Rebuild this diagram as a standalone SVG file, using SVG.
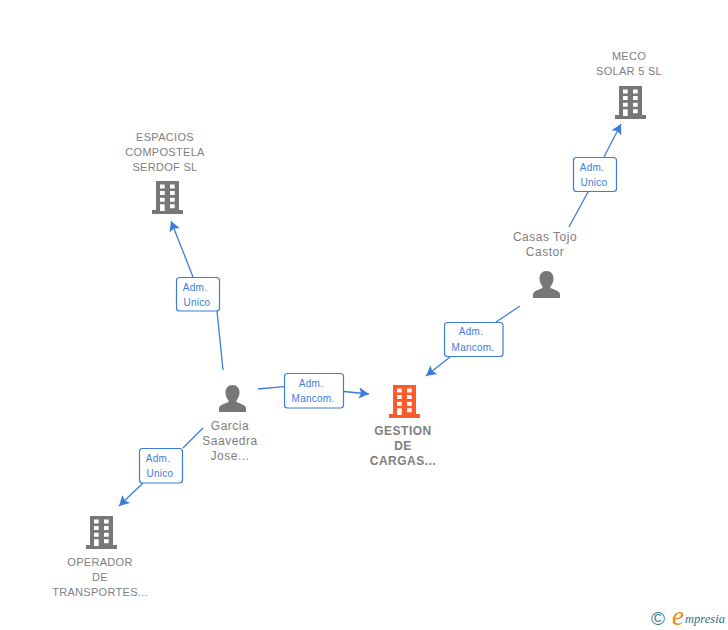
<svg xmlns="http://www.w3.org/2000/svg" xmlns:xlink="http://www.w3.org/1999/xlink" width="728" height="630" viewBox="0 0 728 630">
<style>
text{font-family:"Liberation Sans",Arial,sans-serif;text-anchor:middle}
.n{font-size:11px;fill:#808080;letter-spacing:.3px}
.p{font-size:12px;fill:#808080;letter-spacing:.5px}
.g{font-size:12px;fill:#808080;font-weight:bold;letter-spacing:.5px}
.l{font-size:10px;fill:#3b7ddd;letter-spacing:.25px}
.c{fill:none;stroke:#3b7ddd;stroke-width:1.3}
.b{fill:#fff;stroke:#3b7ddd;stroke-width:1.2}
</style>
<defs>
<marker id="a" markerUnits="userSpaceOnUse" markerWidth="14" markerHeight="14" viewBox="0 0 14 14" refX="11" refY="7" orient="auto">
<path d="M1 1.500L11 7L1 12.500L3 7Z" fill="#3b7ddd"/>
</marker>
<path id="bld" fill-rule="evenodd" d="M4 0H27V29H31V33H0V29H4ZM8 3.500V7.500H12.700V3.500ZM18 3.500V7.500H22.700V3.500ZM8 10V14H12.700V10ZM18 10V14H22.700V10ZM8 16.700V20.700H12.700V16.700ZM18 16.700V20.700H22.700V16.700ZM8 23.300V30H12.700V23.300ZM18 23.300V27.300H22.700V23.300Z"/>
<path id="psn" d="M13.500 0C18 0 20.500 3.200 20.500 7.500C20.500 11 19 13.500 17.500 15.500V17C20.500 18.500 26 19.500 27 23V27H0V23C1 19.500 6.500 18.500 9.500 17V15.500C8 13.500 6.500 11 6.500 7.500C6.500 3.200 9 0 13.500 0Z"/>
</defs>
<g id="connectors">
<path class="c" d="M258 389L284 386.700"/>
<path class="c" d="M344 391.500L369 394" marker-end="url(#a)"/>
<path class="c" d="M223 370L217 311"/>
<path class="c" d="M193 277L171 221" marker-end="url(#a)"/>
<path class="c" d="M203 428L183 448"/>
<path class="c" d="M143 483L119 506" marker-end="url(#a)"/>
<path class="c" d="M569 227L588 192"/>
<path class="c" d="M604 157L621 124" marker-end="url(#a)"/>
<path class="c" d="M520 306L496 322"/>
<path class="c" d="M450 357L426 376" marker-end="url(#a)"/>
<rect class="b" x="284.500" y="373.500" width="59" height="34.500" rx="3"/>
<text class="l" x="311" y="387">Adm.</text><text class="l" x="313" y="402">Mancom.</text>
<rect class="b" x="176.500" y="277.500" width="43" height="33.500" rx="3"/>
<text class="l" x="195" y="291">Adm.</text><text class="l" x="197" y="306">Unico</text>
<rect class="b" x="139.500" y="448.500" width="43" height="34.500" rx="3"/>
<text class="l" x="158" y="462">Adm.</text><text class="l" x="160" y="477">Unico</text>
<rect class="b" x="573.500" y="157.500" width="43" height="34" rx="3"/>
<text class="l" x="592" y="171">Adm.</text><text class="l" x="594" y="186">Unico</text>
<rect class="b" x="444.500" y="322.500" width="58.500" height="34" rx="3"/>
<text class="l" x="471" y="335">Adm.</text><text class="l" x="473" y="351">Mancom.</text>
</g>
<g id="gestion">
<use xlink:href="#bld" href="#bld" x="389" y="385" fill="#ff5a2c"/>
<text class="g" x="403" y="435">GESTION</text><text class="g" x="403" y="450">DE</text><text class="g" x="403" y="465">CARGAS...</text>
</g>
<g id="meco">
<use xlink:href="#bld" href="#bld" x="615" y="86" fill="#777"/>
<text class="n" x="629" y="60">MECO</text><text class="n" x="629" y="75">SOLAR 5 SL</text>
</g>
<g id="espacios">
<use xlink:href="#bld" href="#bld" x="152" y="181" fill="#777"/>
<text class="n" x="165" y="141">ESPACIOS</text><text class="n" x="165" y="156">COMPOSTELA</text><text class="n" x="165" y="171">SERDOF SL</text>
</g>
<g id="operador">
<use xlink:href="#bld" href="#bld" x="86" y="516" fill="#777"/>
<text class="n" x="100" y="566">OPERADOR</text><text class="n" x="100" y="581">DE</text><text class="n" x="100" y="596">TRANSPORTES...</text>
</g>
<g id="garcia">
<use xlink:href="#psn" href="#psn" x="219" y="385" fill="#777"/>
<text class="p" x="230" y="430">Garcia</text><text class="p" x="230" y="445">Saavedra</text><text class="p" x="230" y="460">Jose...</text>
</g>
<g id="casas">
<use xlink:href="#psn" href="#psn" x="533" y="271" fill="#777"/>
<text class="p" x="545" y="241">Casas Tojo</text><text class="p" x="545" y="256">Castor</text>
</g>
<g id="logo">
<text x="658" y="625" style="font-size:19px;fill:#3f7d92">©</text>
<text x="678" y="625" style="font-size:27px;font-style:italic;fill:#f08a1c;font-family:'Liberation Serif',serif">e</text>
<text x="705" y="623" style="font-size:12.500px;font-style:italic;fill:#2f6f86;font-family:'Liberation Serif',serif">mpresia</text>
</g>
</svg>
